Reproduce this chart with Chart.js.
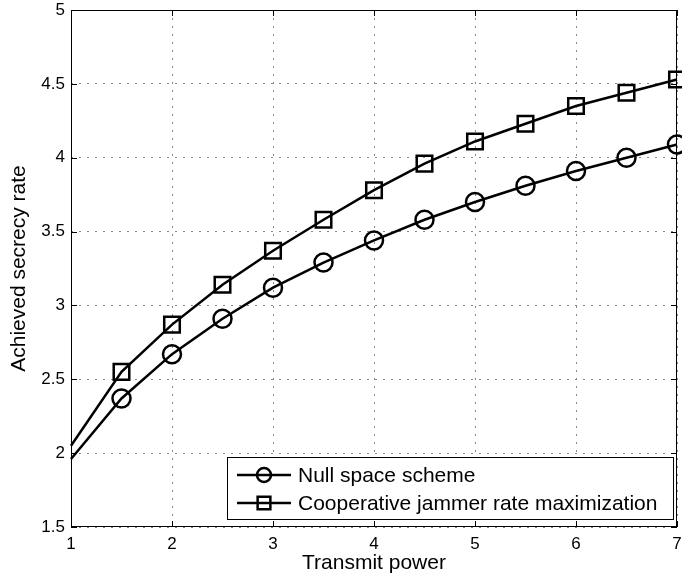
<!DOCTYPE html>
<html>
<head>
<meta charset="utf-8">
<script src="https://cdn.jsdelivr.net/npm/chart.js@4.4.1/dist/chart.umd.min.js"></script>
<style>
  html, body { margin: 0; padding: 0; background: #fff; }
  canvas { display: block; }
</style>
</head>
<body>
<canvas id="chart01" width="682" height="579"></canvas>
<script>
// values
const power = [1, 1.5, 2, 2.5, 3, 3.5, 4, 4.5, 5, 5.5, 6, 6.5, 7]
const nullSpace = [1.96, 2.37, 2.67, 2.91, 3.12, 3.29, 3.44, 3.58, 3.70, 3.81, 3.91, 4.00, 4.09]
const coopJammer = [2.05, 2.55, 2.87, 3.14, 3.37, 3.58, 3.78, 3.96, 4.11, 4.23, 4.35, 4.44, 4.53]
const xTicks = [1, 2, 3, 4, 5, 6, 7]
const yTicks = [1.5, 2, 2.5, 3, 3.5, 4, 4.5, 5]
const seriesNames = ['Null space scheme', 'Cooperative jammer rate maximization']

const FONT = "'Liberation Sans', Arial, Helvetica, sans-serif"
const ctx01 = document.getElementById('chart01').getContext('2d')

// no marker on the first sample (x = 1), like the original
const radii = r => power.map((p, i) => i === 0 ? 0 : r)

// MATLAB-like box, inward ticks and the inset legend
const matlabBox = {
    id: 'matlabBox',
    afterDraw(chart) {
        const { ctx, chartArea: a, scales: { x, y } } = chart
        ctx.save()
        ctx.strokeStyle = '#000'
        ctx.lineWidth = 1
        ctx.setLineDash([])
        ctx.strokeRect(a.left + 0.5, a.top + 0.5, a.right - a.left - 1, a.bottom - a.top - 1)
        ctx.beginPath()
        for (const t of xTicks) {
            const px = Math.round(x.getPixelForValue(t)) + 0.5
            ctx.moveTo(px, a.bottom); ctx.lineTo(px, a.bottom - 6)
            ctx.moveTo(px, a.top); ctx.lineTo(px, a.top + 6)
        }
        for (const t of yTicks) {
            const py = Math.round(y.getPixelForValue(t)) + 0.5
            ctx.moveTo(a.left, py); ctx.lineTo(a.left + 6, py)
            ctx.moveTo(a.right, py); ctx.lineTo(a.right - 6, py)
        }
        ctx.stroke()

        // legend
        const lx = 227, ly = 457, lw = 446, lh = 62
        ctx.fillStyle = '#fff'
        ctx.fillRect(lx, ly, lw, lh)
        ctx.strokeRect(lx + 0.5, ly + 0.5, lw, lh)
        const rows = [475, 503]
        chart.data.datasets.forEach((ds, i) => {
            const cy = rows[i]
            ctx.lineWidth = 2.5
            ctx.strokeStyle = '#000'
            ctx.beginPath()
            ctx.moveTo(237, cy); ctx.lineTo(291, cy)
            ctx.stroke()
            ctx.fillStyle = 'rgba(0,0,0,0)'
            Chart.helpers.drawPoint(ctx, {
                pointStyle: ds.pointStyle,
                radius: ds.legendRadius,
                borderWidth: 2.5
            }, 264, cy)
            ctx.fillStyle = '#000'
            ctx.font = '21px ' + FONT
            ctx.textBaseline = 'middle'
            ctx.textAlign = 'left'
            ctx.fillText(ds.label, 298, cy + 1)
        })
        ctx.restore()
    }
}

const chart = new Chart(ctx01, {
    type: 'line',
    data: {
        labels: power,
        datasets: [{
            label: seriesNames[0],
            data: power.map((p, i) => ({ x: p, y: nullSpace[i] })),
            borderColor: '#000',
            borderWidth: 2.5,
            pointStyle: 'circle',
            pointRadius: radii(9),
            legendRadius: 7,
            pointBorderWidth: 2.5,
            pointBorderColor: '#000',
            pointBackgroundColor: 'rgba(0,0,0,0)',
            tension: 0
        }, {
            label: seriesNames[1],
            data: power.map((p, i) => ({ x: p, y: coopJammer[i] })),
            borderColor: '#000',
            borderWidth: 2.5,
            pointStyle: 'rect',
            pointRadius: radii(11),
            legendRadius: 9,
            pointBorderWidth: 2.5,
            pointBorderColor: '#000',
            pointBackgroundColor: 'rgba(0,0,0,0)',
            tension: 0
        }]
    },
    options: {
        responsive: false,
        animation: false,
        clip: false,
        layout: { autoPadding: false, padding: { top: 10, right: 5, left: 0, bottom: 0 } },
        plugins: {
            legend: { display: false },
            tooltip: { enabled: false }
        },
        scales: {
            x: {
                type: 'linear',
                min: 1,
                max: 7,
                afterBuildTicks: s => { s.ticks = xTicks.map(v => ({ value: v })) },
                afterFit: s => { s.height = 52; s.paddingLeft = 0; s.paddingRight = 0 },
                grid: { color: '#888', lineWidth: 1, drawTicks: false },
                border: { display: false, dash: [2, 6] },
                ticks: {
                    color: '#000',
                    padding: 7,
                    maxRotation: 0,
                    font: { family: FONT, size: 17 },
                    callback: v => String(v)
                },
                title: {
                    display: true,
                    text: 'Transmit power',
                    color: '#000',
                    font: { family: FONT, size: 21 },
                    padding: { top: 0, bottom: 3 }
                }
            },
            y: {
                min: 1.5,
                max: 5,
                afterBuildTicks: s => { s.ticks = yTicks.map(v => ({ value: v })) },
                afterFit: s => { s.width = 71; s.paddingTop = 0; s.paddingBottom = 0 },
                grid: { color: '#888', lineWidth: 1, drawTicks: false },
                border: { display: false, dash: [2, 6] },
                ticks: {
                    color: '#000',
                    padding: 6,
                    font: { family: FONT, size: 17 },
                    callback: v => String(v)
                },
                title: {
                    display: true,
                    text: 'Achieved secrecy rate',
                    color: '#000',
                    font: { family: FONT, size: 21 },
                    padding: { top: 7, bottom: 0 }
                }
            }
        }
    },
    plugins: [matlabBox]
});
</script>
</body>
</html>
